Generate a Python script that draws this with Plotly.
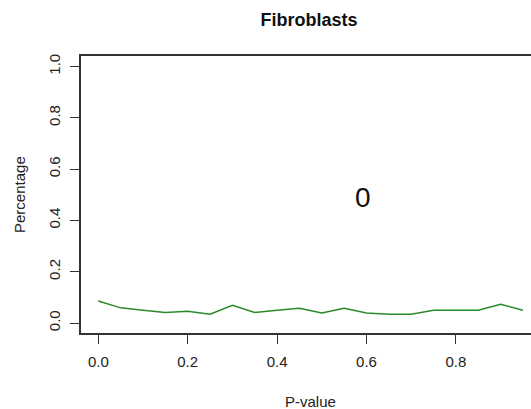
import plotly.graph_objects as go

p_values = [0.00, 0.05, 0.10, 0.15, 0.20, 0.25, 0.30, 0.35, 0.40, 0.45,
            0.50, 0.55, 0.60, 0.65, 0.70, 0.75, 0.80, 0.85, 0.90, 0.95]
percentage = [0.086, 0.059, 0.050, 0.041, 0.046, 0.034, 0.069, 0.041, 0.050, 0.057,
              0.039, 0.057, 0.039, 0.034, 0.034, 0.050, 0.050, 0.050, 0.073, 0.050]
x_ticks = [0.0, 0.2, 0.4, 0.6, 0.8]
x_tick_labels = ["0.0", "0.2", "0.4", "0.6", "0.8"]
y_ticks = [0.0, 0.2, 0.4, 0.6, 0.8, 1.0]
y_tick_labels = ["0.0", "0.2", "0.4", "0.6", "0.8", "1.0"]
title_text = "Fibroblasts"
x_title = "P-value"
y_title = "Percentage"
center_label = "0"

FONT = "Liberation Sans, Arial, sans-serif"
AX = "#333333"
W, H = 531, 409
ML, MR, MT, MB = 81, 0, 56, 76
pw, ph = W - ML - MR, H - MT - MB

fig = go.Figure()
fig.add_trace(go.Scatter(x=p_values, y=percentage, mode="lines",
                         line=dict(color="#2a8a2a", width=1.5),
                         showlegend=False, hoverinfo="skip"))

fig.update_layout(
    width=W, height=H,
    margin=dict(l=ML, r=MR, t=MT, b=MB),
    paper_bgcolor="white", plot_bgcolor="white",
    font=dict(family=FONT, size=15, color="#222222"),
    title=dict(text="<b>" + title_text + "</b>", x=309 / W, xref="container",
               xanchor="center", y=1 - 20 / H, yref="container", yanchor="middle",
               font=dict(size=18, color="#111111", family=FONT)),
    xaxis=dict(range=[-0.0387, 0.968], tickvals=x_ticks, ticktext=x_tick_labels,
               showgrid=False, zeroline=False, showline=True, linecolor=AX, linewidth=2,
               mirror=True, ticks="outside", ticklen=9, tickwidth=1.2, tickcolor=AX,
               ticklabelstandoff=5,
               tickfont=dict(size=15, color="#222222")),
    yaxis=dict(range=[-0.039, 1.0408], tickvals=y_ticks, ticktext=y_tick_labels,
               showgrid=False, zeroline=False, showline=True, linecolor=AX, linewidth=2,
               ticks="outside", ticklen=9, tickwidth=1.2, tickcolor=AX, tickangle=-90,
               ticklabelstandoff=4,
               tickfont=dict(size=15, color="#222222")),
    annotations=[
        dict(text=center_label, x=0.593, y=0.49, xref="x", yref="y", showarrow=False,
             font=dict(size=28, color="#111111", family=FONT)),
        dict(text=x_title, x=(310 - ML) / pw, y=(H - MB - 401) / ph,
             xref="paper", yref="paper", xanchor="center", yanchor="middle",
             showarrow=False, font=dict(size=15)),
        dict(text=y_title, x=(19 - ML) / pw, y=(H - MB - 195) / ph,
             xref="paper", yref="paper", xanchor="center", yanchor="middle",
             showarrow=False, textangle=-90, font=dict(size=15)),
    ],
)

fig.write_html("out.html")
